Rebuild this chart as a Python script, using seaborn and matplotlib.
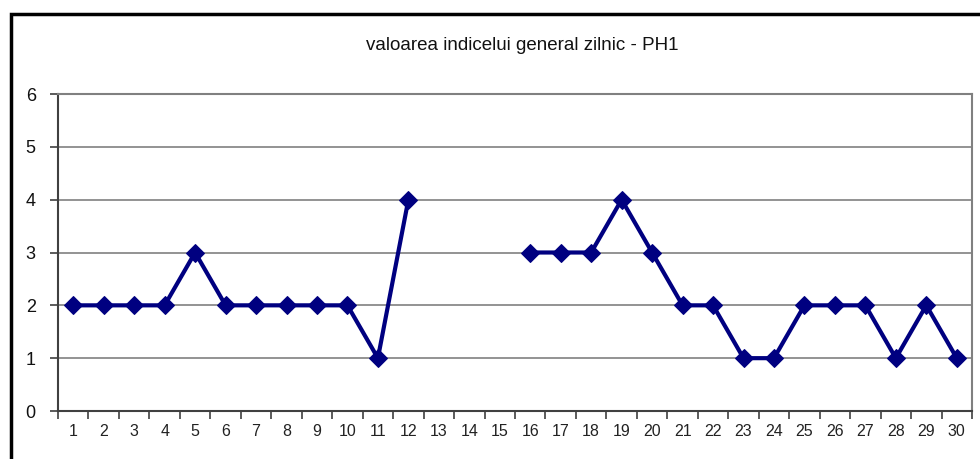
import numpy as np
import pandas as pd
import matplotlib
matplotlib.use("Agg")
import matplotlib.pyplot as plt
import seaborn as sns
from matplotlib.patches import Rectangle

days = list(range(1, 31))
values = [2, 2, 2, 2, 3, 2, 2, 2, 2, 2, 1, 4, np.nan, np.nan, np.nan,
          3, 3, 3, 4, 3, 2, 2, 1, 1, 2, 2, 2, 1, 2, 1]
title = "valoarea indicelui general zilnic - PH1"

sns.set_theme(style="white")
plt.rcParams['font.family'] = ['Liberation Sans', 'DejaVu Sans']

df = pd.DataFrame({"day": days, "val": values})
df["seg"] = df["val"].isna().cumsum()
df = df.dropna()

W, H = 980, 459
fig = plt.figure(figsize=(W / 100, H / 100), dpi=100)
L, R, T, B = 58, 972, 94, 411
ax = fig.add_axes([L / W, 1 - B / H, (R - L) / W, (B - T) / H])

sns.lineplot(data=df, x="day", y="val", units="seg", estimator=None, ax=ax,
             color="#000080", lw=3.0,
             marker="D", markersize=9, markeredgecolor="#000080",
             markerfacecolor="#000080")

ax.set_xlim(0.5, 30.5)
ax.set_ylim(0, 6)
ax.set_yticks(range(0, 7))
ax.yaxis.grid(True, color="#808080", lw=1.2)
ax.set_axisbelow(True)
ax.set_xticks(np.arange(0.5, 31, 1))
ax.set_xticklabels([])
ax.set_xticks(days, minor=True)
ax.set_xticklabels([str(d) for d in days], minor=True, fontsize=11.5, color="#222222")
ax.tick_params(axis="x", which="major", direction="out", length=6, width=1.2,
               color="#404040", bottom=True)
ax.tick_params(axis="x", which="minor", length=0, pad=9)
ax.tick_params(axis="y", direction="out", length=6, width=1.2, color="#404040",
               left=True, labelsize=13, pad=10, labelcolor="#111111")
ax.set_xlabel("")
ax.set_ylabel("")
for s in ["left", "bottom"]:
    ax.spines[s].set_color("#404040")
    ax.spines[s].set_linewidth(1.5)
for s in ["right", "top"]:
    ax.spines[s].set_color("#808080")
    ax.spines[s].set_linewidth(1.5)

fig.text(522 / W, 1 - 45 / H, title, ha="center", va="center", fontsize=13.5,
         color="#111111")

fig.patches.append(Rectangle((11 / W, -0.1), 1.2, 1 - 13.5 / H + 0.1,
                             transform=fig.transFigure, fill=False,
                             edgecolor="black", lw=2.5))

fig.savefig("out.png", dpi=100)
